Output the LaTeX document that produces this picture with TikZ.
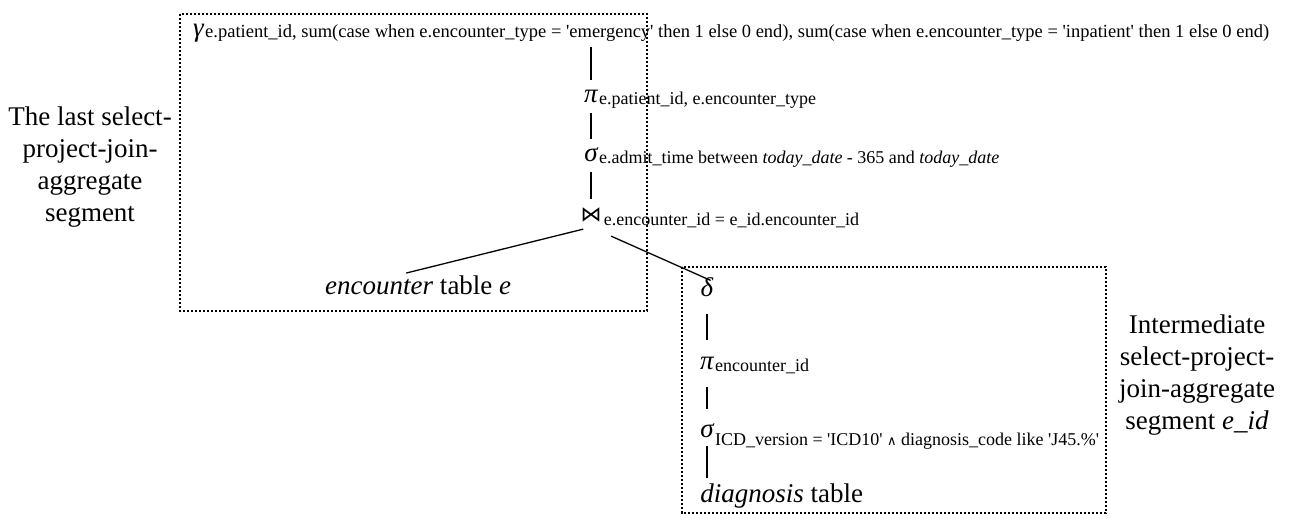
\documentclass[tikz,border=0pt]{standalone}
\usepackage{fontspec}
\setmainfont{Liberation Serif}
\newfontfamily\symfont{DejaVu Sans}
\usetikzlibrary{positioning}

\newcommand{\bigfont}{\fontsize{27}{32}\selectfont}
\newcommand{\subfont}{\fontsize{18}{22}\selectfont}
\newcommand{\sq}{\textquotesingle}

\begin{document}
\begin{tikzpicture}[x=1pt, y=-1pt]
\tikzset{
  op/.style={font=\bigfont\itshape, inner xsep=0pt, inner ysep=4pt,
    text height=14pt, text depth=1pt, anchor=base},
  sub/.style={font=\subfont, inner sep=0pt, anchor=base west},
  tbl/.style={font=\bigfont, inner sep=3pt, anchor=base west},
  note/.style={font=\bigfont, align=center, inner sep=0pt},
  seg/.style={draw, line width=2.6pt, dash pattern=on 2.2pt off 1.8pt},
  bar/.style={draw, line width=1.3pt, shorten <=5pt, shorten >=5pt}
}
\useasboundingbox (0,0) rectangle (1290,518);

% segment frames
\draw[seg] (180,14) rectangle (647,311);
\draw[seg] (682,267) rectangle (1106,513);

% last segment
\node[op, anchor=base west] (gam) at (193,37) {γ};
\node[sub, font=\fontsize{18.5}{22}\selectfont] (gams) at ([xshift=1pt, yshift=-1pt]gam.base east)
  {e.patient\_id, sum(case when e.encounter\_type = \sq emergency\sq{} then 1 else 0 end), sum(case when e.encounter\_type = \sq inpatient\sq{} then 1 else 0 end)};
\node[op] (pi1) at (591,103) {π};
\node[sub] (pi1s) at ([xshift=1pt, yshift=-2pt]pi1.base east) {e.patient\_id, e.encounter\_type};
\node[op, below=59pt of pi1.base, anchor=base] (sig1) {σ};
\node[sub] (sig1s) at ([xshift=1pt, yshift=-2pt]sig1.base east)
  {e.admit\_time between \textit{today\_date} - 365 and \textit{today\_date}};
\node[op, below=60pt of sig1.base, anchor=base] (join) {\symfont\upshape\fontsize{21}{21}\selectfont ⋈};
\node[sub] (joins) at ([xshift=2pt, yshift=-4pt]join.base east) {e.encounter\_id = e\_id.encounter\_id};
\node[tbl] (enc) at (322,295) {\textit{encounter} table \textit{e}};

% intermediate segment
\node[op] (dlt) at (707,297) {δ};
\node[op, below=73pt of dlt.base, anchor=base] (pi2) {π};
\node[sub] (pi2s) at ([xshift=1pt, yshift=-1pt]pi2.base east) {encounter\_id};
\node[op, below=67pt of pi2.base, anchor=base] (sig2) {σ};
\node[sub] (sig2s) at ([xshift=1pt, yshift=-8pt]sig2.base east)
  {ICD\_version = \sq ICD10\sq{} {\symfont\fontsize{13}{13}\selectfont ∧} diagnosis\_code like \sq J45.\%\sq};
\node[tbl, below=65pt of sig2.base west, anchor=base west, xshift=-3pt] (diag) {\textit{diagnosis} table};

% segment notes
\node[note] (lastseg) at (90,167) {The last select-\\project-join-\\aggregate\\segment};
\node[note] (midseg) at (1197,375) {Intermediate\\select-project-\\join-aggregate\\segment \textit{e\_id}};

\path[bar] (gam.south -| pi1.north) -- (pi1.north);
\path[bar] (pi1.south) -- (sig1.north);
\path[bar] (sig1.south) -- (join.north);
\path[bar, shorten <=8pt, shorten >=0pt] (join.south) -- ([xshift=-12pt]enc.north);
\path[bar, shorten <=22pt, shorten >=-4pt] (join.south) -- (dlt.north);
\path[bar, shorten <=12pt, shorten >=12pt] (dlt.south) -- (pi2.north);
\path[bar, shorten <=12pt, shorten >=10pt] (pi2.south) -- (sig2.north);
\path[bar, shorten <=4pt, shorten >=2pt] (sig2.south) -- (sig2.south |- diag.north);
\end{tikzpicture}
\end{document}
